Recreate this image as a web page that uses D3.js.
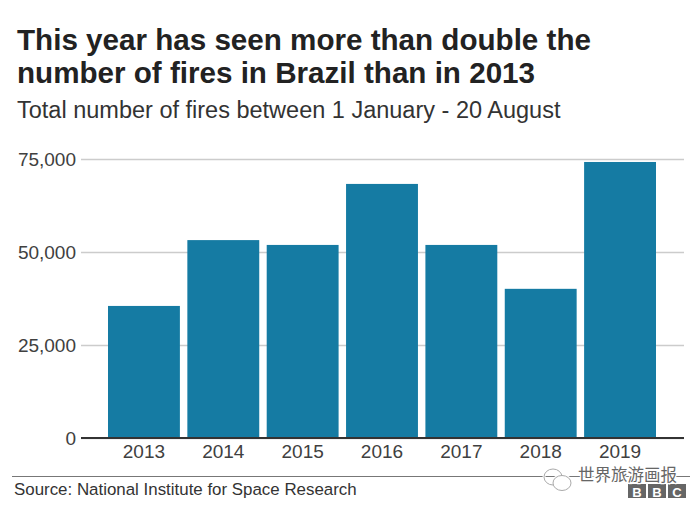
<!DOCTYPE html>
<html>
<head>
<meta charset="utf-8">
<script src="https://cdn.jsdelivr.net/npm/d3@7"></script>
<style>
  html, body { margin: 0; padding: 0; background: #fff; }
  text { font-family: "Liberation Sans", Arial, sans-serif; }
</style>
</head>
<body>
<div id="chart"></div>
<script>
const years = ['2013', '2014', '2015', '2016', '2017', '2018', '2019'];
const fires = [35500, 53200, 51900, 68300, 51900, 40100, 74200];
const yTicks = [0, 25000, 50000, 75000];
const titleLines = ['This year has seen more than double the', 'number of fires in Brazil than in 2013'];
const subtitle = 'Total number of fires between 1 January - 20 August';
const source = 'Source: National Institute for Space Research';
const watermark = '世界旅游画报';
const bbcLetters = ['B', 'B', 'C'];

const width = 700;
const height = 510;

const svg = d3.select('#chart').append('svg')
  .attr('width', width)
  .attr('height', height)
  .style('display', 'block');

const xScale = d3.scaleBand().domain(years).range([108, 656]).paddingInner(0.094);
const yScale = d3.scaleLinear().domain([0, 75000]).range([438, 159]);

//title
svg.selectAll('.title')
  .data(titleLines)
  .enter()
  .append('text')
  .attr('class', 'title')
  .attr('x', 17)
  .attr('y', (d, i) => 50 + i * 33)
  .attr('font-size', 29.6)
  .attr('font-weight', 'bold')
  .attr('fill', '#222')
  .text((d) => d);

//subtitle
svg.append('text')
  .attr('x', 17)
  .attr('y', 118)
  .attr('font-size', 23.5)
  .attr('fill', '#333')
  .text(subtitle);

//y axis with long ticks used as gridlines
const yAxis = d3.axisLeft(yScale)
  .tickValues(yTicks)
  .tickSize(603)
  .tickPadding(5)
  .tickFormat(d3.format(','));

const yG = svg.append('g')
  .attr('transform', 'translate(684,0)')
  .call(yAxis);
yG.select('.domain').remove();
yG.selectAll('line').attr('stroke', '#cccccc').attr('stroke-width', 1.6);
yG.selectAll('text')
  .attr('font-size', 19)
  .attr('fill', '#404040')
  .style('font-family', '"Liberation Sans", Arial, sans-serif');

//bars
svg.selectAll('.bar')
  .data(years)
  .enter()
  .append('rect')
  .attr('class', 'bar')
  .attr('x', (d) => xScale(d))
  .attr('y', (d, i) => yScale(fires[i]))
  .attr('width', xScale.bandwidth())
  .attr('height', (d, i) => yScale(0) - yScale(fires[i]))
  .attr('fill', '#157ba3');

//baseline
svg.append('line')
  .attr('x1', 81)
  .attr('x2', 684)
  .attr('y1', yScale(0))
  .attr('y2', yScale(0))
  .attr('stroke', '#333')
  .attr('stroke-width', 2);

//x axis
const xAxis = d3.axisBottom(xScale).tickSize(0).tickPadding(7);
const xG = svg.append('g')
  .attr('transform', 'translate(0,' + yScale(0) + ')')
  .call(xAxis);
xG.select('.domain').remove();
xG.selectAll('text')
  .attr('font-size', 19)
  .attr('fill', '#404040')
  .style('font-family', '"Liberation Sans", Arial, sans-serif');

//footer rule and source
svg.append('line')
  .attr('x1', 12)
  .attr('x2', 690)
  .attr('y1', 476.5)
  .attr('y2', 476.5)
  .attr('stroke', '#777')
  .attr('stroke-width', 1);

svg.append('text')
  .attr('x', 14)
  .attr('y', 495)
  .attr('font-size', 16.9)
  .attr('fill', '#333')
  .text(source);

//BBC blocks
const bbc = svg.append('g').attr('transform', 'translate(628,484)');
bbc.selectAll('rect')
  .data(bbcLetters)
  .enter()
  .append('rect')
  .attr('x', (d, i) => i * 20)
  .attr('y', 0)
  .attr('width', 18)
  .attr('height', 14)
  .attr('fill', '#666');
bbc.selectAll('text')
  .data(bbcLetters)
  .enter()
  .append('text')
  .attr('x', (d, i) => i * 20 + 9)
  .attr('y', 12.5)
  .attr('text-anchor', 'middle')
  .attr('font-size', 13)
  .attr('font-weight', 'bold')
  .attr('fill', '#fff')
  .text((d) => d);

//wechat style watermark
const mark = svg.append('g').attr('fill', 'none').attr('stroke', '#fff').attr('stroke-width', 3);
mark.append('ellipse').attr('cx', 553).attr('cy', 477).attr('rx', 9).attr('ry', 8);
mark.append('ellipse').attr('cx', 562).attr('cy', 483).attr('rx', 9).attr('ry', 7.5);
const markLine = svg.append('g').attr('fill', 'none').attr('stroke', '#aaa').attr('stroke-width', 1);
markLine.append('ellipse').attr('cx', 553).attr('cy', 477).attr('rx', 9).attr('ry', 8);
markLine.append('ellipse').attr('cx', 562).attr('cy', 483).attr('rx', 9).attr('ry', 7.5).attr('fill', '#fff');

svg.append('text')
  .attr('x', 578)
  .attr('y', 481)
  .attr('font-size', 16.5)
  .attr('fill', '#666')
  .attr('stroke', '#fff')
  .attr('stroke-width', 2.5)
  .attr('paint-order', 'stroke')
  .style('font-family', '"Noto Sans CJK SC"')
  .text(watermark);
</script>
</body>
</html>
